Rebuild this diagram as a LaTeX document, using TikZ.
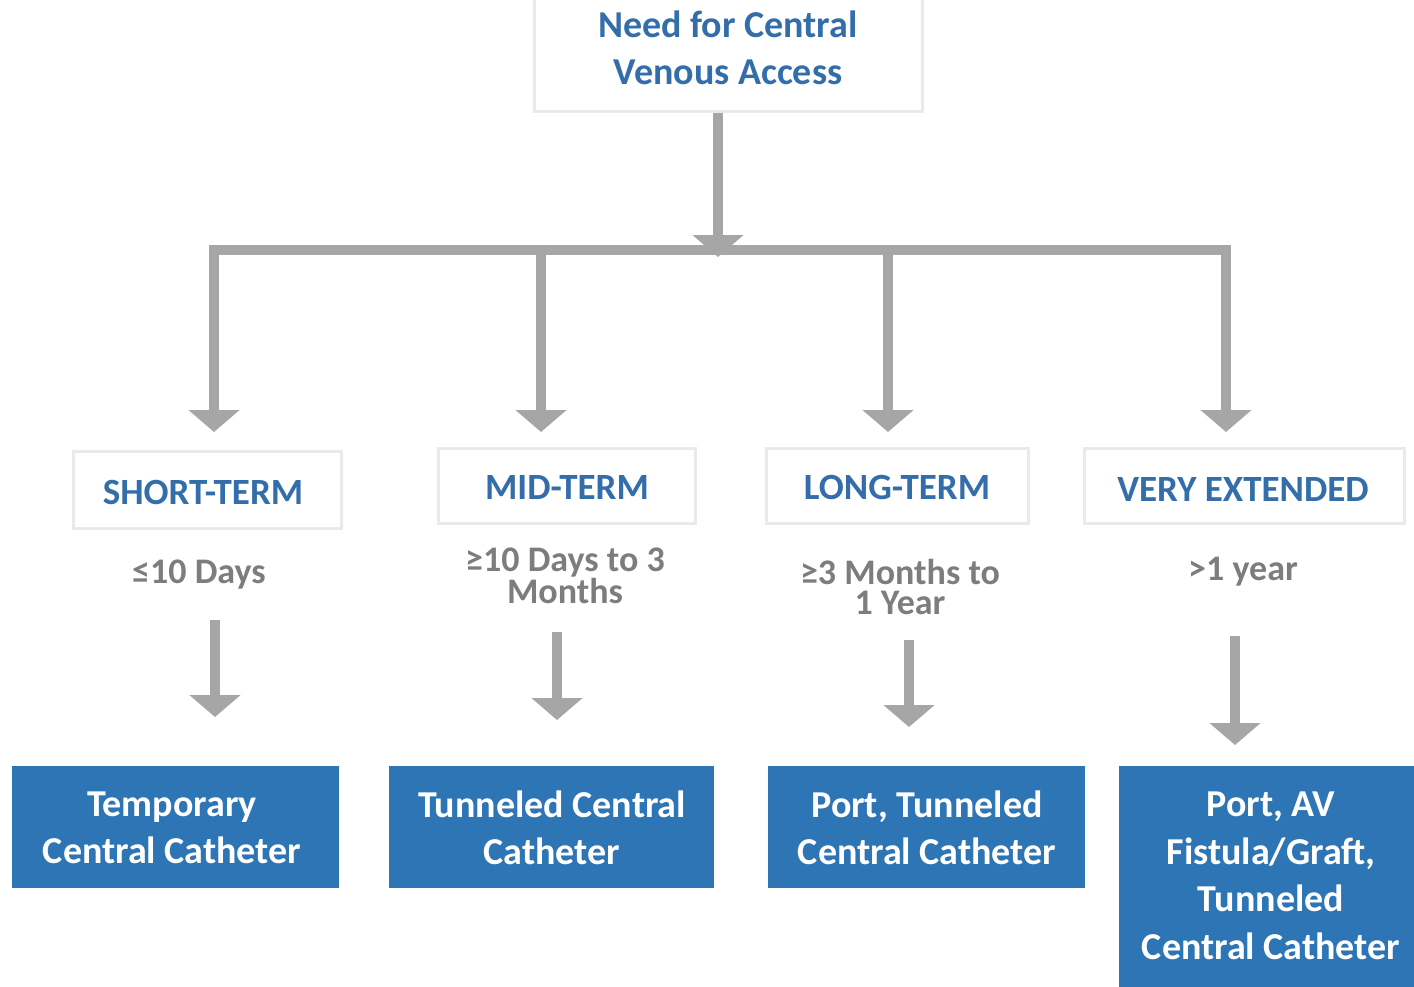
\documentclass[tikz,border=0pt]{standalone}
\usepackage{fontspec}
\setmainfont{Carlito}
\usetikzlibrary{arrows.meta}
\definecolor{boxblue}{RGB}{46,117,182}
\definecolor{txtblue}{RGB}{52,110,170}
\definecolor{arrgray}{RGB}{166,166,166}
\definecolor{durgray}{RGB}{125,125,125}
\definecolor{shadowgray}{RGB}{234,234,234}
\tikzset{
  whitebox/.style={draw=shadowgray, line width=2.5pt, fill=white, inner sep=0pt, anchor=north west},
  bluebox/.style={fill=boxblue, draw=none, inner sep=0pt, anchor=north west},
  hdr/.style={text=txtblue, font=\fontsize{37}{40}\selectfont\bfseries},
  toptxt/.style={text=txtblue, font=\fontsize{38}{47}\selectfont\bfseries, align=center},
  dur/.style={text=durgray, font=\fontsize{36}{30}\selectfont\bfseries, align=center},
  res/.style={text=white, font=\fontsize{38}{47.5}\selectfont\bfseries, align=center},
  bigarr/.style={draw=arrgray, line width=10pt, -{Triangle[width=50pt,length=22pt]}},
  barline/.style={draw=arrgray, line width=10pt}
}
\begin{document}
\begin{tikzpicture}[x=1pt,y=-1pt]
\useasboundingbox (0,0) rectangle (1414,986);
% top box
\node[whitebox, minimum width=388pt, minimum height=125pt] (top) at (533,-15) {};
\node[toptxt] (toptext) at (728,48) {Need for Central\\Venous Access};
% bar
\coordinate (bl) at (214,250);
\coordinate (br) at (1226,250);
\coordinate (bm) at (718,250);
\draw[barline] ([xshift=-5pt]bl) -- ([xshift=5pt]br);
\draw[bigarr] (top.south -| bm) -- ([yshift=-7pt]bm);
% header boxes
\node[whitebox, minimum width=268pt, minimum height=77pt] (h1) at (72,450) {};
\node[whitebox, minimum width=257pt, minimum height=75pt] (h2) at (437,447) {};
\node[whitebox, minimum width=262pt, minimum height=75pt] (h3) at (765,447) {};
\node[whitebox, minimum width=320pt, minimum height=75pt] (h4) at (1083,447) {};
\node[hdr] at (203,492) {SHORT-TERM};
\node[hdr] at (567,487) {MID-TERM};
\node[hdr] at (897,487) {LONG-TERM};
\node[hdr] at (1243,489) {VERY EXTENDED};
% drops
\coordinate (d1) at (214,250);
\coordinate (d2) at (541,250);
\coordinate (d3) at (888,250);
\coordinate (d4) at (1226,250);
\draw[bigarr] ([yshift=-5pt]d1) -- (d1 |- 0,432);
\draw[bigarr] ([yshift=-5pt]d2) -- (d2 |- 0,432);
\draw[bigarr] ([yshift=-5pt]d3) -- (d3 |- 0,432);
\draw[bigarr] ([yshift=-5pt]d4) -- (d4 |- 0,432);
% durations
\node[dur] (t1) at (199,575) {≤10 Days};
\node[dur] (t2) at (565,576) {≥10 Days to 3\\Months};
\node[dur] (t3) at (900,587) {≥3 Months to\\1 Year};
\node[dur] (t4) at (1243,572) {>1 year};
% result boxes
\node[bluebox, minimum width=327pt, minimum height=122pt] (r1) at (12,766) {};
\node[bluebox, minimum width=325pt, minimum height=122pt] (r2) at (389,766) {};
\node[bluebox, minimum width=317pt, minimum height=122pt] (r3) at (768,766) {};
\node[bluebox, minimum width=300pt, minimum height=230pt] (r4) at (1119,766) {};
\node[res] at (172,828) {Temporary\\Central Catheter};
\node[res] at (552,828) {Tunneled Central\\Catheter};
\node[res] at (927,828) {Port, Tunneled\\Central Catheter};
\node[res] at (1271,876) {Port, AV\\Fistula/Graft,\\Tunneled\\Central Catheter};
% small arrows
\coordinate (s1) at (215,620); \coordinate (e1) at (215,717);
\coordinate (s2) at (557,632); \coordinate (e2) at (557,720);
\coordinate (s3) at (909,640); \coordinate (e3) at (909,727);
\coordinate (s4) at (1235,636); \coordinate (e4) at (1235,745);
\draw[bigarr] (s1) -- (e1);
\draw[bigarr] (s2) -- (e2);
\draw[bigarr] (s3) -- (e3);
\draw[bigarr] (s4) -- (e4);
\end{tikzpicture}
\end{document}
